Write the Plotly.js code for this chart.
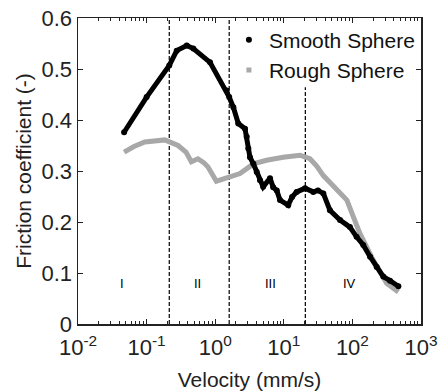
<!DOCTYPE html>
<html>
<head>
<meta charset="utf-8">
<script src="https://cdn.plot.ly/plotly-3.0.1.min.js"></script>
<style>html,body{margin:0;padding:0;background:#fff;}#chart{width:440px;height:391px;}</style>
</head>
<body>
<div id="chart"></div>
<script>
// Smooth sphere (black)
const smoothV = [0.047, 0.1, 0.214, 0.275, 0.385, 0.48, 0.84, 1.47, 1.6, 1.84, 2.17, 2.72, 2.88, 3.04, 3.21, 3.6, 4.03, 4.5, 5.0, 6.3, 7.0, 7.9, 8.8, 11.6, 13.2, 15.4, 20.4, 26.9, 31.5, 37.7, 47, 66, 92, 115, 144, 181, 226, 282, 353, 468];
const smoothF = [0.376, 0.445, 0.507, 0.536, 0.546, 0.540, 0.513, 0.458, 0.445, 0.425, 0.393, 0.383, 0.367, 0.344, 0.327, 0.314, 0.298, 0.282, 0.269, 0.286, 0.268, 0.262, 0.243, 0.233, 0.249, 0.259, 0.266, 0.259, 0.262, 0.256, 0.223, 0.204, 0.190, 0.171, 0.155, 0.132, 0.112, 0.093, 0.085, 0.074];
// Rough sphere (grey)
const roughV = [0.047, 0.0655, 0.094, 0.184, 0.287, 0.375, 0.449, 0.56, 0.687, 0.785, 1.04, 1.26, 1.64, 2.3, 3.6, 5.6, 9.8, 17.2, 24, 30, 37.7, 59, 83, 129, 202, 316, 468];
const roughF = [0.337, 0.348, 0.357, 0.361, 0.350, 0.337, 0.318, 0.324, 0.316, 0.308, 0.280, 0.284, 0.288, 0.295, 0.314, 0.321, 0.327, 0.331, 0.324, 0.310, 0.291, 0.262, 0.243, 0.177, 0.125, 0.080, 0.063];
// Regime boundaries and labels
const boundaries = [0.214, 1.6, 20.6];
const boundaryTop = [0.6, 0.6, 0.464];
const regimeLabels = ['I', 'II', 'III', 'IV'];
const regimeX = [0.0437, 0.543, 6.3, 92];
const regimeY = 0.08;
const xTickVals = [0.01, 0.1, 1, 10, 100, 1000];
const xTickText = ['10<sup>-2</sup>', '10<sup>-1</sup>', '10<sup>0</sup>', '10<sup>1</sup>', '10<sup>2</sup>', '10<sup>3</sup>'];
const yTickVals = [0, 0.1, 0.2, 0.3, 0.4, 0.5, 0.6];

const minorVals = [];
for (let d = -2; d < 3; d++) for (let m = 2; m <= 9; m++) minorVals.push(m * Math.pow(10, d));

const traces = [];
boundaries.forEach((b, i) => {
  traces.push({x: [b, b], y: [0, boundaryTop[i]], mode: 'lines', showlegend: false, hoverinfo: 'skip',
    line: {color: 'black', width: 1.2, dash: '4px,2px'}});
});
traces.push({x: roughV, y: roughF, mode: 'lines', showlegend: false,
  line: {color: '#a8a8a8', width: 5}});
traces.push({x: smoothV, y: smoothF, mode: 'lines+markers', showlegend: false,
  line: {color: 'black', width: 5}, marker: {color: 'black', size: 6}});
traces.push({x: [null], y: [null], mode: 'markers', name: 'Smooth Sphere',
  marker: {color: 'black', size: 6, symbol: 'circle'}});
traces.push({x: [null], y: [null], mode: 'markers', name: 'Rough Sphere',
  marker: {color: '#a8a8a8', size: 5, symbol: 'square'}});

const layout = {
  width: 440, height: 391,
  margin: {l: 78, r: 19, t: 17.5, b: 67},
  paper_bgcolor: 'white', plot_bgcolor: 'white',
  font: {family: 'Liberation Sans, Arial, sans-serif', color: '#222', size: 21},
  showlegend: true,
  legend: {x: 0.44, y: 0.995, xanchor: 'left', yanchor: 'top', bgcolor: 'rgba(255,255,255,0)',
    font: {size: 21, color: '#111'}, itemwidth: 30, tracegroupgap: 0},
  xaxis: {type: 'log', range: [-2, 3], tickmode: 'array', tickvals: xTickVals, ticktext: xTickText,
    ticks: 'inside', ticklen: 5, tickwidth: 1, tickcolor: '#222', showline: true, linecolor: '#222', linewidth: 1.5,
    mirror: 'ticks', showgrid: false, zeroline: false, tickfont: {size: 22}, ticklabelstandoff: 3,
    minor: {tickmode: 'array', tickvals: minorVals, ticks: 'inside', ticklen: 3, tickcolor: '#222', showgrid: false},
    title: {text: 'Velocity (mm/s)', font: {size: 21}, standoff: 14}},
  yaxis: {range: [0, 0.6], tickmode: 'array', tickvals: yTickVals,
    ticks: 'inside', ticklen: 5, tickwidth: 1, tickcolor: '#222', showline: true, linecolor: '#222', linewidth: 1.5,
    mirror: 'ticks', showgrid: false, zeroline: false, tickfont: {size: 22},
    title: {text: 'Friction coefficient (-)', font: {size: 21}, standoff: 4}},
  annotations: regimeLabels.map((t, i) => ({x: Math.log10(regimeX[i]), y: regimeY, xref: 'x', yref: 'y',
    text: t, showarrow: false, font: {size: 13, color: '#000'}}))
};

Plotly.newPlot('chart', traces, layout, {displayModeBar: false, staticPlot: true});
</script>
</body>
</html>
